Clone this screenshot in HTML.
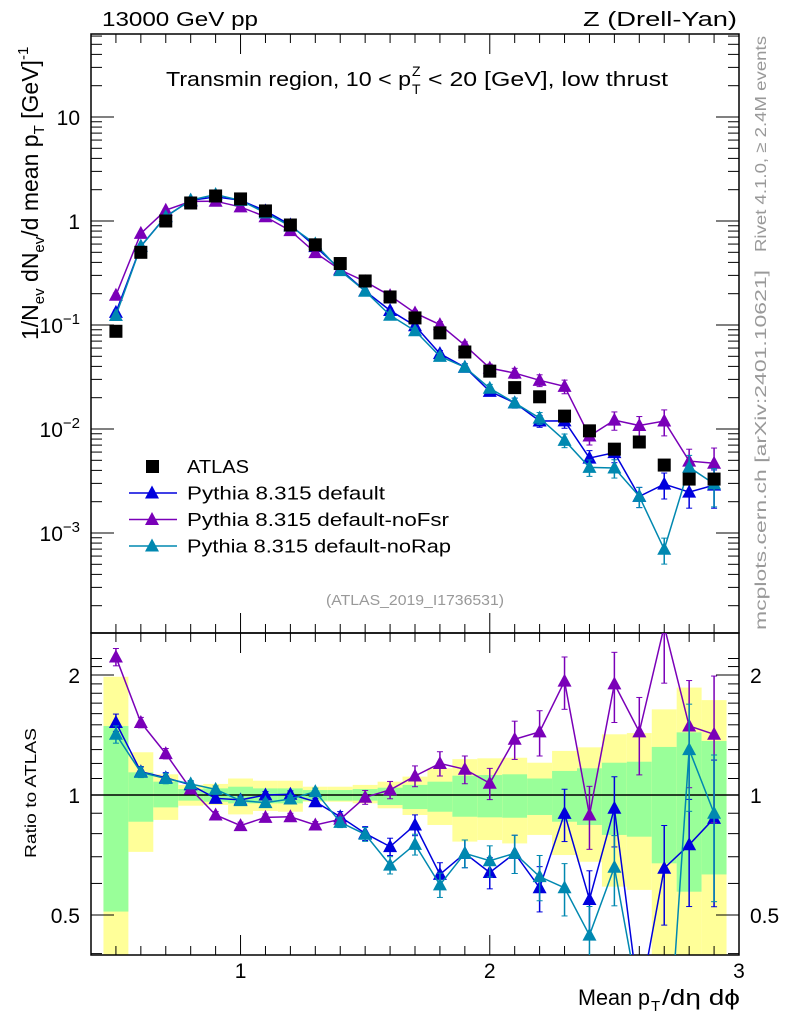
<!DOCTYPE html>
<html><head><meta charset="utf-8">
<style>
html,body{margin:0;padding:0;background:#fff;overflow:hidden;width:786px;height:1024px;}
svg{display:block;font-family:"Liberation Sans",sans-serif;overflow:hidden;}
</style></head>
<body>
<svg id="c" width="786" height="1024" viewBox="0 0 786 1024" xmlns="http://www.w3.org/2000/svg"></svg>
<script>
const xCenters=[0.5,0.6,0.7,0.8,0.9,1.0,1.1,1.2,1.3,1.4,1.5,1.6,1.7,1.8,1.9,2.0,2.1,2.2,2.3,2.4,2.5,2.6,2.7,2.8,2.9];
const atlasVals=[0.087,0.50,1.0,1.49,1.74,1.63,1.25,0.915,0.59,0.39,0.265,0.186,0.117,0.084,0.055,0.036,0.025,0.0204,0.0133,0.0096,0.0064,0.0075,0.0045,0.0033,0.0033];
const ratioDefault=[1.52,1.144,1.105,1.06,0.981,0.972,1.0,1.004,0.962,0.882,0.801,0.742,0.841,0.632,0.714,0.639,0.714,0.585,0.899,0.547,0.926,0.30,0.655,0.75,0.874];
const ratioNoFsr=[2.22,1.52,1.27,1.035,0.891,0.838,0.879,0.882,0.841,0.869,0.987,1.03,1.116,1.20,1.16,1.07,1.38,1.44,1.93,0.891,1.90,1.44,2.65,1.49,1.42];
const ratioNoRap=[1.42,1.14,1.10,1.066,1.033,0.968,0.957,0.977,1.02,0.854,0.797,0.667,0.752,0.595,0.714,0.684,0.714,0.624,0.585,0.445,0.659,0.30,0.155,1.30,0.90];
const relErr=[0.05,0.03,0.03,0.02,0.02,0.02,0.02,0.02,0.02,0.03,0.04,0.05,0.06,0.07,0.08,0.09,0.11,0.13,0.15,0.18,0.2,0.22,0.28,0.3,0.4];
const yellowHi=[1.98,1.28,1.127,1.06,1.066,1.10,1.086,1.086,1.049,1.049,1.06,1.08,1.112,1.167,1.23,1.236,1.24,1.205,1.29,1.317,1.42,1.43,1.64,1.86,1.73];
const greenHi=[1.49,1.14,1.08,1.035,1.039,1.049,1.039,1.039,1.029,1.029,1.035,1.043,1.06,1.08,1.118,1.122,1.127,1.10,1.149,1.167,1.205,1.212,1.32,1.436,1.366];
const greenLo=[0.51,0.857,0.931,0.968,0.962,0.953,0.953,0.953,0.968,0.968,0.968,0.944,0.922,0.908,0.882,0.879,0.877,0.891,0.857,0.841,0.794,0.786,0.674,0.572,0.632];
const yellowLo=[0.3,0.72,0.866,0.94,0.944,0.894,0.912,0.908,0.962,0.962,0.953,0.926,0.891,0.841,0.764,0.771,0.756,0.794,0.707,0.68,0.589,0.578,0.3,0.3,0.3];
const mainTicks=[{v:10,t:"10"},{v:1,t:"1"},{v:0.1,t:"10",e:"−1"},{v:0.01,t:"10",e:"−2"},{v:0.001,t:"10",e:"−3"}];
const ratioTicks=[2,1,0.5];
const xTicks=[1,2,3];

const svg=document.getElementById('c');
const NS="http://www.w3.org/2000/svg";
const L=91,R=739,T=34,MB=633,RB=955;
function X(v){return L+(v-0.4)*(R-L)/2.6;}
function Y(v){return 221-104*Math.log10(v);}
function YR(v){return 795-398.6*Math.log10(v);}
function mk(tag,attrs,parent){const e=document.createElementNS(NS,tag);for(const k in attrs)e.setAttribute(k,attrs[k]);(parent||svg).appendChild(e);return e;}
function ts(parent,txt,attrs){const s=mk('tspan',attrs||{},parent);s.textContent=txt;return s;}

const defs=mk('defs',{});
const cp1=mk('clipPath',{id:'cm'},defs);mk('rect',{x:L,y:T,width:R-L,height:MB-T},cp1);
const cp2=mk('clipPath',{id:'cr'},defs);mk('rect',{x:L,y:MB,width:R-L,height:RB-MB},cp2);

const bandG=mk('g',{'clip-path':'url(#cr)'});


xCenters.forEach((c,i)=>{
  const x0=X(c-0.05),x1=X(c+0.05);
  const y1=mk('rect',{x:x0,y:YR(yellowHi[i]),width:x1-x0,height:YR(yellowLo[i])-YR(yellowHi[i]),fill:'#ffff99'},bandG);
  
  
  const g1=mk('rect',{x:x0,y:YR(greenHi[i]),width:x1-x0,height:YR(greenLo[i])-YR(greenHi[i]),fill:'#99ff99'},bandG);
  
  
});
mk('line',{x1:L,x2:R,y1:YR(1),y2:YR(1),stroke:'#000','stroke-width':1.5});

mk('rect',{x:L,y:T,width:R-L,height:MB-T,fill:'none',stroke:'#000','stroke-width':1.5});
mk('rect',{x:L,y:MB,width:R-L,height:RB-MB,fill:'none',stroke:'#000','stroke-width':1.5});

for(let k=4;k<=30;k++){const v=k/10;const x=X(v);const major=(k%10==0);const len=major?20:9;
  [[T,1],[MB,-1],[MB,1],[RB,-1]].forEach(([y,d])=>mk('line',{x1:x,x2:x,y1:y,y2:y+d*len,stroke:'#000','stroke-width':1}));}
xTicks.forEach(v=>{const t=mk('text',{x:X(v),y:978,'font-size':21,'text-anchor':'middle'});t.textContent=v;
  });

for(let d=-4;d<=1;d++){for(let m=1;m<=9;m++){const v=m*Math.pow(10,d);const y=Y(v);if(y<T||y>MB)continue;const len=m==1?23:11;
  mk('line',{x1:L,x2:L+len,y1:y,y2:y,stroke:'#000','stroke-width':1});mk('line',{x1:R,x2:R-len,y1:y,y2:y,stroke:'#000','stroke-width':1});}}
mainTicks.forEach(tk=>{const t=mk('text',{x:80,y:Y(tk.v)+8,'font-size':21,'text-anchor':'end'});
  
  if(tk.e){t.appendChild(document.createTextNode(tk.t));ts(t,tk.e,{dy:-9,'font-size':15});}else t.textContent=tk.t;});

const rminor=[0.4,0.5,0.6,0.7,0.8,0.9,1,1.1,1.2,1.3,1.4,1.5,1.6,1.7,1.8,1.9,2,2.1,2.2];
rminor.forEach(v=>{const y=YR(v);if(y<MB||y>RB)return;const len=ratioTicks.includes(v)?23:11;
  mk('line',{x1:L,x2:L+len,y1:y,y2:y,stroke:'#000','stroke-width':1});mk('line',{x1:R,x2:R-len,y1:y,y2:y,stroke:'#000','stroke-width':1});});
ratioTicks.forEach(v=>{const a=mk('text',{x:80,y:YR(v)+8,'font-size':21,'text-anchor':'end'});a.textContent=v;
  
  const b=mk('text',{x:750,y:YR(v)+8,'font-size':21});b.textContent=v;
  });

const series=[
 {name:'default',ratio:ratioDefault,col:'#0000dd'},
 {name:'noFsr',ratio:ratioNoFsr,col:'#7a00b8'},
 {name:'noRap',ratio:ratioNoRap,col:'#0088b0'}];
function tri(g,x,y,col){return mk('path',{d:`M${x},${y-7.5}L${x+7},${y+5.5}L${x-7},${y+5.5}Z`,fill:col},g);}
series.forEach(s=>{
  const gm=mk('g',{'clip-path':'url(#cm)'});
  
  
  const gr=mk('g',{'clip-path':'url(#cr)'});
  
  
  let pm='',pr='';
  xCenters.forEach((c,i)=>{
    const mv=atlasVals[i]*s.ratio[i];const e=relErr[i];
    const x=X(c),ym=Y(mv),yr=YR(s.ratio[i]);
    pm+=(i?'L':'M')+x+','+ym;pr+=(i?'L':'M')+x+','+yr;
    const lo=Math.max(1e-6,1-e),hi=1+e;
    mk('line',{x1:x,x2:x,y1:Y(mv*lo),y2:Y(mv*hi),stroke:s.col,'stroke-width':1.5},gm);
    mk('line',{x1:x-3,x2:x+3,y1:Y(mv*lo),y2:Y(mv*lo),stroke:s.col},gm);
    mk('line',{x1:x-3,x2:x+3,y1:Y(mv*hi),y2:Y(mv*hi),stroke:s.col},gm);
    mk('line',{x1:x,x2:x,y1:YR(s.ratio[i]*lo),y2:YR(s.ratio[i]*hi),stroke:s.col,'stroke-width':1.5},gr);
    mk('line',{x1:x-3,x2:x+3,y1:YR(s.ratio[i]*lo),y2:YR(s.ratio[i]*lo),stroke:s.col},gr);
    mk('line',{x1:x-3,x2:x+3,y1:YR(s.ratio[i]*hi),y2:YR(s.ratio[i]*hi),stroke:s.col},gr);
  });
  mk('path',{d:pm,fill:'none',stroke:s.col,'stroke-width':1.5},gm);
  mk('path',{d:pr,fill:'none',stroke:s.col,'stroke-width':1.5},gr);
  xCenters.forEach((c,i)=>{
    const m=tri(gm,X(c),Y(atlasVals[i]*s.ratio[i]),s.col);
    
    
    const r=tri(gr,X(c),YR(s.ratio[i]),s.col);
    
    
  });
});
const ga=mk('g',{'clip-path':'url(#cm)'});


xCenters.forEach((c,i)=>{const r=mk('rect',{x:X(c)-6.5,y:Y(atlasVals[i])-6.5,width:13,height:13,fill:'#000'},ga);
  });

const leg=mk('g',{});


mk('rect',{x:146,y:460,width:13,height:13,fill:'#000'},leg);
let t=mk('text',{x:187,y:473,'font-size':18,textLength:62,lengthAdjust:'spacingAndGlyphs'},leg);t.textContent='ATLAS';

const labs=['Pythia 8.315 default','Pythia 8.315 default-noFsr','Pythia 8.315 default-noRap'];
const labW=[198,262,264];
series.forEach((s,k)=>{const y=493+k*26.5;
  mk('line',{x1:129,x2:177,y1:y,y2:y,stroke:s.col,'stroke-width':1.5},leg);tri(leg,152,y,s.col);
  const tt=mk('text',{x:187,y:y+6.5,'font-size':18,textLength:labW[k],lengthAdjust:'spacingAndGlyphs'},leg);tt.textContent=labs[k];
  });

function txt(name,x,y,size,str,opts){const e=mk('text',Object.assign({x:x,y:y,'font-size':size},opts||{}));e.textContent=str;
  return e;}
txt('beam-label',102,26,20,'13000 GeV pp',{textLength:156,lengthAdjust:'spacingAndGlyphs'});
txt('process-label',583,26,20,'Z (Drell-Yan)',{textLength:154,lengthAdjust:'spacingAndGlyphs'});
const ti=mk('text',{x:166,y:86,'font-size':20});

ts(ti,'Transmin region, 10 < p',{textLength:245,lengthAdjust:'spacingAndGlyphs'});
ts(ti,'Z',{x:412,y:76,'font-size':14});
ts(ti,'T',{x:412,y:94,'font-size':14});
ts(ti,'< 20 [GeV], low thrust',{x:428,y:86,textLength:240,lengthAdjust:'spacingAndGlyphs'});
txt('analysis-id',326,605,15,'(ATLAS_2019_I1736531)',{fill:'#999',textLength:178,lengthAdjust:'spacingAndGlyphs'});
const xt=mk('text',{x:578,y:1005,'font-size':22});

ts(xt,'Mean p',{textLength:72,lengthAdjust:'spacingAndGlyphs'});
ts(xt,'T',{x:651,y:1011,'font-size':15});
ts(xt,'/dη dϕ',{x:662,y:1005,textLength:78,lengthAdjust:'spacingAndGlyphs'});
const yt=mk('text',{x:0,y:0,'font-size':23,transform:'translate(38,340) rotate(-90)'});

ts(yt,'1/N',{});ts(yt,'ev',{'font-size':15,dy:6});ts(yt,' dN',{dy:-6});ts(yt,'ev',{'font-size':15,dy:6});
ts(yt,'/d mean p',{dy:-6});ts(yt,'T',{'font-size':15,dy:6});ts(yt,' [GeV]',{dy:-6});ts(yt,'-1',{'font-size':15,dy:-10});
txt('ratio-axis-title',0,0,16,'Ratio to ATLAS',{transform:'translate(36,858) rotate(-90)',textLength:130,lengthAdjust:'spacingAndGlyphs'});
txt('rivet-label',0,0,16,'Rivet 4.1.0, ≥ 2.4M events',{transform:'translate(766,252) rotate(-90)',fill:'#999',textLength:216,lengthAdjust:'spacingAndGlyphs'});
txt('mcplots-label',0,0,16,'mcplots.cern.ch [arXiv:2401.10621]',{transform:'translate(766,630) rotate(-90)',fill:'#999',textLength:360,lengthAdjust:'spacingAndGlyphs'});
</script>
</body></html>
